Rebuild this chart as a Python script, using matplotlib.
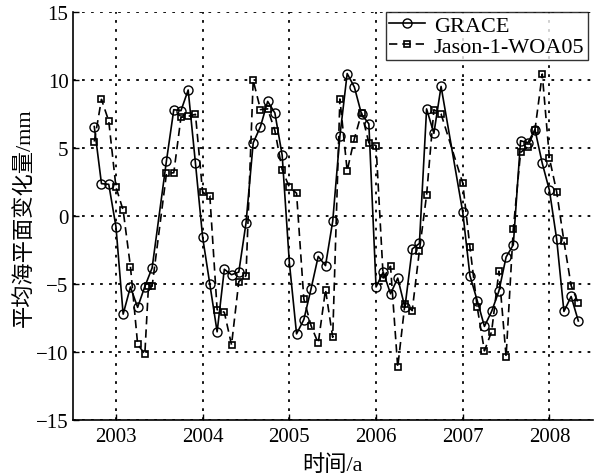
import numpy as np
import matplotlib
matplotlib.use('Agg')
from matplotlib import pyplot as plt

plt.rcParams['font.family'] = ['Liberation Serif', 'Noto Sans CJK SC']
plt.rcParams['axes.unicode_minus'] = True

# GRACE monthly values (decimal year, mm)
grace_t = [2002.750, 2002.833, 2002.917, 2003.000, 2003.083, 2003.167, 2003.250, 2003.333,
           2003.417, 2003.583, 2003.667, 2003.750, 2003.833, 2003.917, 2004.000, 2004.083,
           2004.167, 2004.250, 2004.333, 2004.417, 2004.500, 2004.583, 2004.667, 2004.750,
           2004.833, 2004.917, 2005.000, 2005.083, 2005.167, 2005.250, 2005.333, 2005.417,
           2005.500, 2005.583, 2005.667, 2005.750, 2005.833, 2005.917, 2006.000, 2006.083,
           2006.167, 2006.250, 2006.333, 2006.417, 2006.500, 2006.583, 2006.667, 2006.750,
           2007.000, 2007.083, 2007.167, 2007.250, 2007.333, 2007.417, 2007.500, 2007.583,
           2007.667, 2007.750, 2007.833, 2007.917, 2008.000, 2008.083, 2008.167, 2008.250,
           2008.333]
grace_v = [6.6, 2.4, 2.35, -0.76, -7.2, -5.2, -6.7, -5.17,
           -3.8, 4.1, 7.84, 7.77, 9.29, 3.9, -1.55, -5.0,
           -8.5, -3.9, -4.3, -4.1, -0.5, 5.4, 6.6, 8.45,
           7.6, 4.5, -3.4, -8.65, -7.6, -5.35, -2.95, -3.63,
           -0.37, 5.9, 10.5, 9.5, 7.5, 6.8, -5.2, -4.1,
           -5.7, -4.55, -6.7, -2.4, -2.0, 7.9, 6.1, 9.55,
           0.3, -4.37, -6.2, -8.1, -7.0, -5.5, -3.0, -2.1,
           5.56, 5.4, 6.37, 3.9, 1.9, -1.67, -7.0, -5.9,
           -7.7]

# Jason-1 minus WOA05 steric (decimal year, mm)
jason_t = [2002.750, 2002.833, 2002.917, 2003.000, 2003.083, 2003.167, 2003.250, 2003.333,
           2003.375, 2003.417, 2003.583, 2003.667, 2003.750, 2003.833, 2003.917, 2004.000,
           2004.083, 2004.167, 2004.250, 2004.333, 2004.417, 2004.500, 2004.583, 2004.667,
           2004.750, 2004.833, 2004.917, 2005.000, 2005.083, 2005.167, 2005.250, 2005.333,
           2005.417, 2005.500, 2005.583, 2005.667, 2005.750, 2005.833, 2005.917, 2006.000,
           2006.083, 2006.167, 2006.250, 2006.333, 2006.417, 2006.500, 2006.583, 2006.667,
           2006.750, 2007.000, 2007.083, 2007.167, 2007.250, 2007.333, 2007.417, 2007.500,
           2007.583, 2007.667, 2007.750, 2007.833, 2007.917, 2008.000, 2008.083, 2008.167,
           2008.250, 2008.333]
jason_v = [5.5, 8.6, 7.0, 2.15, 0.44, -3.7, -9.4, -10.15,
           -5.15, -5.15, 3.16, 3.2, 7.28, 7.35, 7.5, 1.76,
           1.5, -6.87, -7.06, -9.46, -4.8, -4.37, 10.0, 7.85,
           7.9, 6.3, 3.43, 2.13, 1.7, -6.08, -8.04, -9.34,
           -5.4, -8.9, 8.63, 3.35, 5.7, 7.6, 5.4, 5.2,
           -4.54, -3.68, -11.1, -6.45, -6.94, -2.53, 1.57, 7.84,
           7.52, 2.43, -2.28, -6.69, -9.9, -8.48, -4.04, -10.32,
           -0.93, 4.7, 5.12, 6.37, 10.46, 4.26, 1.81, -1.84,
           -5.1, -6.4]

year_ticks = [2003, 2004, 2005, 2006, 2007, 2008]
value_ticks = [-15, -10, -5, 0, 5, 10, 15]

fig = plt.figure(figsize=(6.0, 4.77), dpi=100)
ax = fig.add_axes([0.121, 0.117, 0.867, 0.855])

ax.plot(grace_t, grace_v, '-', color='black', linewidth=1.2, marker='o',
        markersize=6.5, markerfacecolor='none', markeredgewidth=1.0, label='GRACE')
ax.plot(jason_t, jason_v, '--', color='black', linewidth=1.2, dashes=(5, 3), marker='s',
        markersize=4.5, markerfacecolor='none', markeredgewidth=1.2, label='Jason-1-WOA05')

ax.set_xlim(2002.5, 2008.5)
ax.set_ylim(-15, 15)
ax.set_xticks(year_ticks)
ax.set_yticks(value_ticks)
ax.tick_params(direction='in', length=4, labelsize=15, width=1.0, pad=3)
ax.tick_params(axis='x', pad=5)
ax.grid(True, color='black', linestyle=(0, (1.5, 3.5)), linewidth=1.3)
ax.spines['top'].set_visible(False)
ax.spines['right'].set_visible(False)
ax.spines['left'].set_linewidth(1.2)
ax.spines['bottom'].set_linewidth(1.2)

ax.set_xlabel('时间/a', fontsize=16, labelpad=6)
ax.set_ylabel('平均海平面变化量/mm', fontsize=16, labelpad=1)

leg = ax.legend(loc='upper right', fontsize=16, frameon=True, fancybox=False,
                handlelength=1.6, handletextpad=0.4, borderpad=0.15, labelspacing=0.0,
                borderaxespad=0.0, bbox_to_anchor=(0.99, 1.0))
leg.get_frame().set_edgecolor('black')
leg.get_frame().set_linewidth(1.0)

fig.savefig('out.png', dpi=100)
